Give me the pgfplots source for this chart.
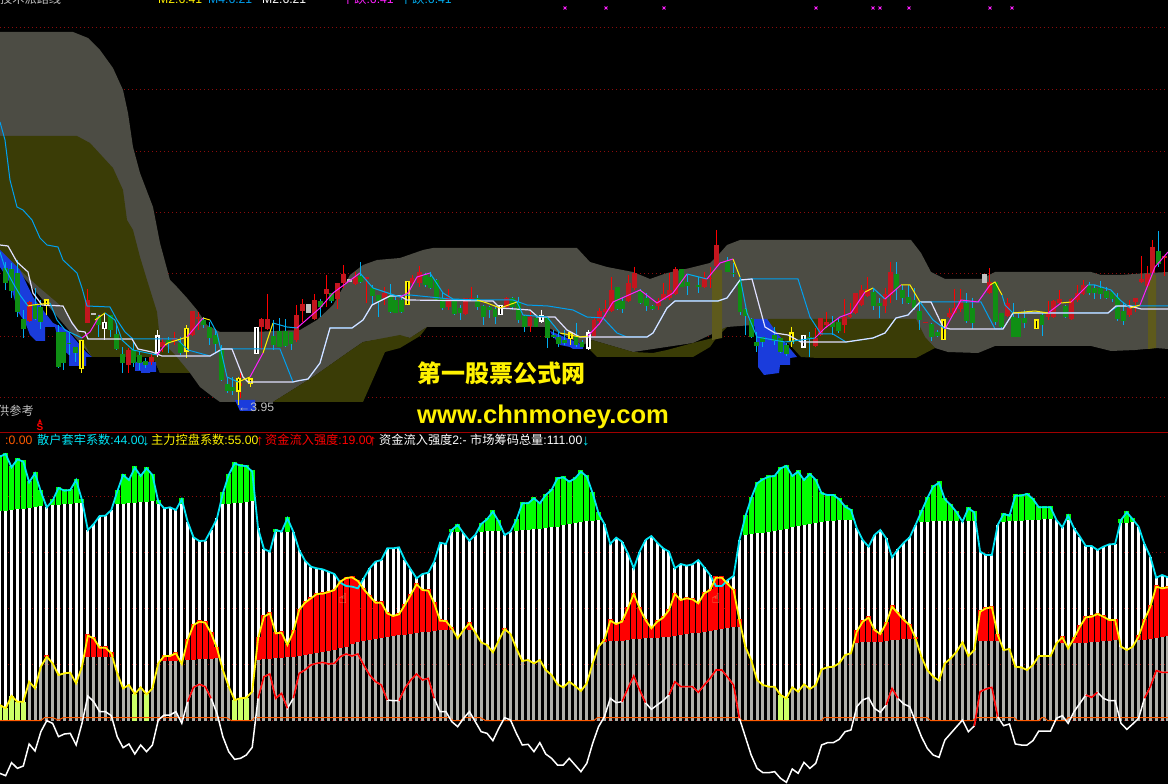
\documentclass[border=0pt]{standalone}
\usepackage{fontspec}
\setmainfont{Liberation Sans}
\newfontfamily\cjk{Noto Sans CJK SC}
\newfontfamily\djv{DejaVu Sans}
\usepackage{pgfplots}
\usepackage{pgfplotstable}
\pgfplotsset{compat=1.18}
\definecolor{cloud}{HTML}{4C4C44}
\definecolor{olive}{HTML}{3A3C06}
\definecolor{stripe}{HTML}{5E5A1C}
\definecolor{bluef}{HTML}{1A3CDC}
\definecolor{maline}{HTML}{00A0F0}
\definecolor{candr}{HTML}{C4161E}
\definecolor{candg}{HTML}{0F8F14}
\definecolor{dotr}{HTML}{8C0C0C}
\definecolor{barg}{HTML}{B0B0AA}
\definecolor{lgreen}{HTML}{CCFF66}
\definecolor{orgl}{HTML}{FF5A00}
\definecolor{cyanl}{HTML}{00E5F5}
\definecolor{mag}{HTML}{FF20FF}
\pgfplotstableread{
k c ye w gb rb
0 20 765 970 184 622
1 12 775 977 182 622
2 52 738 938 180 622
3 28 755 955 178 622
4 35 755 948 176 622
5 97 695 882 174 622
6 70 715 903 172 622
7 125 650 845 168 622
8 172 620 812 166 622
9 152 640 820 165 622
10 114 675 860 164 622
11 122 670 852 163 622
12 120 668 850 162 622
13 90 700 885 160 622
14 150 650 820 160 622
15 240 557 738 165 622
16 222 565 755 165 622
17 198 593 785 165 622
18 197 593 785 165 622
19 180 610 797 165 622
20 125 670 860 162 622
21 75 715 893 161 622
22 90 705 882 160 622
23 53 732 912 158 622
24 78 712 885 156 622
25 55 733 905 155 622
26 75 715 885 153 622
27 155 640 810 162 635
28 175 618 795 162 633
29 172 618 795 162 632
30 180 610 785 162 632
31 148 642 820 162 632
32 215 570 755 162 630
33 262 525 712 162 629
34 273 515 703 162 628
35 272 518 710 162 627
36 240 550 745 162 626
37 205 595 790 162 625
38 130 660 860 163 625
39 75 710 905 162 625
40 40 750 928 160 625
41 47 745 925 158 625
42 48 743 915 156 625
43 65 725 892 154 625
44 235 565 745 200 630
45 297 500 680 240 628
46 305 490 672 245 626
47 240 550 745 245 625
48 245 548 730 245 624
49 205 585 775 245 622
50 245 545 745 245 620
51 300 480 670 245 618
52 332 458 660 245 615
53 350 445 645 245 612
54 355 432 640 245 610
55 358 431 637 245 607
56 365 426 642 245 604
57 372 420 640 245 600
58 398 395 620 245 595
59 408 384 612 245 590
60 410 382 618 245 583
61 415 393 612 245 577
62 385 418 645 245 573
63 355 438 675 245 570
64 335 458 695 245 567
65 330 458 705 245 564
66 295 490 750 245 560
67 295 498 752 245 557
68 292 493 752 245 556
69 330 465 715 245 554
70 358 435 690 245 551
71 385 403 672 245 549
72 372 420 690 245 547
73 368 422 685 245 545
74 335 460 745 245 543
75 278 512 785 245 541
76 282 513 785 245 540
77 240 535 815 245 540
78 225 565 830 245 540
79 250 540 805 245 540
80 272 520 785 245 540
81 255 548 815 245 540
82 222 577 845 245 540
83 208 585 850 244 540
84 185 607 872 243 540
85 215 572 835 243 540
86 255 537 803 243 540
87 245 552 810 243 540
88 210 595 850 243 540
89 160 633 885 241 540
90 160 630 883 240 540
91 145 640 905 238 540
92 160 630 878 236 540
93 135 660 912 234 540
94 120 675 925 232 540
95 85 703 945 230 540
96 82 712 945 225 540
97 95 695 925 223 540
98 85 708 945 220 540
99 65 723 965 216 540
100 80 700 940 214 580
101 130 640 880 212 580
102 190 590 830 210 580
103 222 570 800 210 575
104 282 512 745 250 574
105 263 522 758 250 573
106 275 515 755 250 572
107 310 475 715 250 570
108 355 432 678 250 568
109 305 475 720 250 567
110 270 510 758 250 565
111 258 535 778 250 564
112 278 515 765 250 563
113 295 503 752 250 562
114 305 480 735 250 560
115 355 432 695 250 558
116 342 450 710 250 555
117 347 445 710 250 552
118 343 448 710 250 550
119 330 460 727 250 548
120 352 430 705 250 545
121 375 420 685 250 542
122 408 383 660 250 539
123 408 383 660 250 537
124 390 402 682 250 533
125 378 420 705 250 531
126 270 510 805 258 530
127 200 590 860 256 530
128 145 630 915 253 578
129 100 690 955 250 578
130 88 705 968 248 578
131 80 710 968 246 578
132 78 710 965 244 578
133 55 735 985 240 578
134 48 745 997 236 578
135 78 712 957 232 578
136 65 725 970 228 578
137 90 703 937 225 578
138 72 717 955 222 578
139 90 705 940 220 578
140 130 658 885 216 578
141 135 652 878 214 578
142 135 650 878 212 578
143 148 640 868 211 578
144 170 615 845 210 578
145 180 610 840 209 578
146 235 545 770 209 578
147 270 515 750 205 577
148 290 503 743 205 577
149 255 540 775 205 576
150 240 552 787 218 575
151 265 520 765 218 573
152 322 470 715 218 571
153 298 490 745 218 570
154 278 510 762 218 568
155 262 525 770 218 567
156 225 565 815 218 567
157 185 620 860 217 573
158 145 660 895 215 573
159 110 680 915 214 573
160 98 692 922 212 573
161 148 640 870 212 573
162 165 625 850 212 573
163 187 605 830 212 573
164 215 577 810 212 573
165 175 618 845 212 573
166 187 600 828 212 573
167 305 485 725 215 573
168 315 475 717 215 573
169 315 472 712 215 573
170 225 555 800 215 573
171 192 600 827 215 580
172 197 597 822 214 580
173 137 650 882 213 580
174 137 652 885 212 580
175 132 660 885 211 580
176 147 645 872 210 580
177 172 618 843 209 580
178 172 618 843 208 580
179 172 618 843 207 580
180 210 580 805 207 580
181 232 562 797 210 580
182 197 595 820 210 580
183 235 565 785 210 580
184 260 530 760 215 579
185 288 502 735 215 578
186 288 500 742 215 577
187 300 492 727 215 576
188 290 500 745 215 574
189 283 510 752 215 572
190 282 510 752 220 570
191 210 590 820 220 570
192 187 600 838 218 570
193 208 590 822 216 570
194 230 560 805 215 570
195 282 510 745 215 570
196 320 470 710 215 568
197 383 410 662 215 563
198 375 415 667 215 561
199 382 412 667 215 558
}\lowtab
\pgfplotstableread{
x t b h l
5.7 115 160 95 180
11.7 118 182 100 205
17.3 130 245 90 260
23.3 268 298 240 325
35 225 268 175 270
40.7 232 275 210 298
58.3 305 410 285 415
63.3 305 400 305 420
69 338 342 305 375
75.7 352 370 350 395
98.7 258 285 255 320
110.3 255 300 255 320
116.3 312 358 278 360
122.3 373 398 352 430
133.3 360 400 335 410
139.3 375 400 365 420
145.3 393 405 385 415
168.7 330 340 320 370
180.3 338 368 320 375
203.7 270 285 262 295
209.3 292 325 275 345
215.3 315 342 298 365
221.3 360 450 345 452
227.3 462 482 440 490
232.7 470 482 440 495
273.3 318 345 270 360
279.3 302 350 265 350
285.3 302 348 268 350
291 305 342 305 360
320.3 213 230 208 262
331.7 190 212 190 218
360.3 138 155 97 160
372.7 175 197 165 225
378.7 195 212 195 262
390.3 195 245 163 250
395.7 210 250 200 250
401.5 210 245 205 250
425.3 135 165 128 170
430.7 142 175 125 178
436.7 150 210 148 212
442.3 205 235 188 240
454.3 210 252 208 255
460 235 250 225 270
477.3 205 230 195 240
483.3 228 260 225 285
489.3 230 240 228 265
495 238 262 228 282
512.7 205 232 200 240
518.7 215 270 200 278
524.7 258 292 255 305
536 263 290 260 292
547.3 265 325 262 355
553.3 315 320 300 325
558.3 320 342 305 350
564.3 330 340 300 345
576 320 345 278 350
582 335 352 330 352
617.3 172 238 170 240
622.3 212 238 205 250
640.7 180 220 178 222
646.7 205 228 190 242
652.7 228 237 225 240
681.7 118 170 118 172
687.3 155 168 135 195
698.7 165 172 140 190
727.7 92 125 82 125
733.3 128 132 100 140
740 150 245 145 255
745.7 238 258 235 315
751.7 268 322 265 325
756.7 335 348 305 365
762.7 322 335 320 350
774.3 315 332 292 345
780.7 325 365 325 370
786.7 345 372 340 378
}\greenA
\pgfplotstableread{
x t b h l
29.3 215 272 213 275
87.3 210 278 178 280
128.3 360 405 355 430
151.7 380 395 370 405
162.7 335 350 325 365
174.3 325 332 305 345
192.3 243 315 243 318
198 262 268 245 300
240 460 468 430 505
261.7 268 292 265 360
267.3 268 298 192 300
296.7 255 330 225 335
302.3 222 242 208 275
314.3 210 268 192 270
326.3 178 192 135 230
337.7 160 208 160 238
343.7 132 160 105 175
355.3 140 162 125 165
366.7 140 146 140 218
384.3 190 205 172 225
412 143 160 135 165
419.3 125 160 108 170
448.3 200 232 178 240
465.7 205 252 205 255
471.7 205 208 170 212
506.7 205 230 200 235
530 262 288 245 305
594 270 318 265 322
599.3 243 272 235 285
605.3 238 245 210 262
611.3 180 242 142 245
628.7 160 212 135 215
634.7 130 175 110 180
658.3 212 228 205 240
663.3 192 210 158 210
669.3 180 205 130 210
675.3 118 192 112 195
704.7 145 172 125 175
710 143 146 112 175
716.7 45 108 0 112
}\redA
\pgfplotstableread{
x t b h l
793 360 365 350 372
809.3 352 355 335 412
832.3 305 320 288 345
838.3 305 332 295 340
873.3 215 257 205 270
879.3 248 258 235 295
896.3 162 208 127 240
902.3 210 233 195 253
908.3 232 250 195 253
914 240 265 205 270
919.7 272 300 245 330
931.3 312 352 310 362
937.3 335 348 330 350
966.7 248 303 220 308
972.3 263 310 233 328
995.3 187 305 187 315
1001.3 280 322 278 325
1013.7 292 350 250 352
1018.7 295 350 280 352
1024.7 293 310 270 325
1042 285 315 280 348
1065.3 258 290 255 293
1089 195 220 185 225
1094.7 205 220 195 238
1100.7 205 222 183 238
1106.3 213 235 200 238
1112 215 238 215 245
1117.3 230 298 218 302
1123.3 273 303 245 315
1158.3 93 132 33 140
1164.3 108 113 108 113
}\greenB
\pgfplotstableread{
x t b h l
815.3 355 378 325 380
820.7 295 345 295 348
826.7 305 315 275 325
844.3 290 315 237 340
850 285 290 250 295
855.3 220 280 220 282
861.3 210 255 195 258
867.3 207 227 172 230
885 222 257 205 280
890.7 155 225 125 250
925.3 305 310 305 310
949.3 280 292 265 295
954.7 263 280 208 282
960.7 240 268 208 275
989.7 187 220 145 222
1007.3 250 287 235 290
1048 278 290 243 300
1053.7 243 290 240 295
1059.3 238 250 210 252
1071.3 237 297 235 300
1077.3 220 240 195 245
1083 195 222 180 225
1129.3 255 285 240 290
1135.3 233 247 233 275
1141.3 178 185 108 188
1147.3 162 197 137 200
1152.3 80 160 60 165
1164.3 108 113 108 168
}\redB
\pgfplotstableread{
x t b h l
46.7 208 228 208 255
81.7 330 418 330 430
186.3 293 365 285 385
238.7 443 485 440 525
250.3 445 463 445 470
407.3 153 225 153 225
570.3 307 327 305 345
791.7 307 337 290 350
}\yellowA
\pgfplotstableread{
x t b h l
943.3 298 360 298 360
1036.3 298 327 298 327
}\yellowB
\pgfplotstableread{
x t b h l
104.7 275 298 250 330
157.3 316 370 300 380
256.3 290 373 290 373
500.7 225 255 225 255
541.7 255 275 240 280
588.3 307 356 300 360
803.3 315 353 315 353
}\whiteA
\pgfplotstableread{
x t b
93.3 250 254
308.3 222 250
349.3 148 155
984.3 132 158
}\greyA
\pgfplotsset{ebar/.style={draw=none,no markers,forget plot}}
\newcommand\candle[4]{%
\addplot[ebar,error bars/.cd,y dir=plus,y explicit,error mark=none,error bar style={draw=#4,line width=1pt}] table[x=x,y expr=#2+\thisrow{h}/3,y error plus expr=(\thisrow{l}-\thisrow{h})/3]{#1};
\addplot[ebar,error bars/.cd,y dir=plus,y explicit,error mark=none,error bar style={draw=#3,line width=4.8pt}] table[x=x,y expr=#2+\thisrow{t}/3,y error plus expr=(\thisrow{b}-\thisrow{t})/3]{#1};}
\newcommand\hollowc[3]{%
\addplot[ebar,error bars/.cd,y dir=plus,y explicit,error mark=none,error bar style={draw=#3,line width=1pt}] table[x=x,y expr=#2+\thisrow{h}/3,y error plus expr=(\thisrow{l}-\thisrow{h})/3]{#1};
\addplot[ebar,error bars/.cd,y dir=plus,y explicit,error mark=none,error bar style={draw=#3,line width=5pt}] table[x=x,y expr=#2+\thisrow{t}/3,y error plus expr=(\thisrow{b}-\thisrow{t})/3]{#1};
\addplot[ebar,error bars/.cd,y dir=plus,y explicit,error mark=none,error bar style={draw=black,line width=1.4pt}] table[x=x,y expr=#2+(\thisrow{t}+4)/3,y error plus expr=(\thisrow{b}-\thisrow{t}-8)/3]{#1};}
\newcommand\combbars[4]{% base expr, error expr, colour, width
\addplot[ebar,error bars/.cd,y dir=minus,y explicit,error mark=none,error bar style={draw=#3,line width=#4}] table[x=k,y expr={#1},y error minus expr={#2}]{\lowtab};}
\begin{document}
\begin{tikzpicture}
\path[use as bounding box] (0,0) rectangle (1168pt,784pt);
\clip (0,0) rectangle (1168pt,784pt);
\fill[black] (0,0) rectangle (1168pt,784pt);
% ---------- upper panel ----------
\begin{axis}[at={(0,352pt)},anchor=south west,width=1168pt,height=432pt,scale only axis,hide axis,
 xmin=0,xmax=1168,ymin=0,ymax=432,y dir=reverse,clip=true]
\pgfplotsinvokeforeach{28,90,152,213,274,337,398}{
 \addplot[dotr,line width=1pt,dash pattern=on 1pt off 3pt,forget plot] coordinates {(0,#1) (1168,#1)};}
\addplot[fill=cloud,draw=none,forget plot] coordinates {(0,32) (73,32) (88,38) (100,50) (113,68) (123,90) (128,113) (133,147) (140,173) (153,207) (160,243) (170,280) (177,287) (187,298) (197,310) (207,325) (220,332) (253,332) (300,330) (317,320) (333,305) (350,275) (363,265) (377,260) (400,258) (423,250) (433,248) (577,248) (590,262) (607,267) (633,272) (650,279) (667,273) (690,268) (710,263) (720,253) (727,245) (740,240) (911,240) (921,253) (931,272) (945,279) (981,279) (995,272) (1091,272) (1101,275) (1121,275) (1148,273) (1168,272) (1168,349) (1156,348) (1135,350) (1111,351) (1091,346) (995,346) (978,353) (948,352) (935,348) (916,330) (800,330) (753,325) (727,327) (693,343) (633,352) (592,340) (583,345) (547,327) (433,327) (427,327) (410,338) (400,336) (363,342) (347,353) (313,377) (273,402) (220,402) (213,397) (200,387) (190,373) (160,373) (153,357) (92,357) (0,250)} -- cycle;
\addplot[fill=olive,draw=none,forget plot] coordinates {(0,136) (77,136) (90,143) (113,168) (123,190) (127,220) (133,230) (140,257) (147,280) (157,312) (160,340) (175,355) (190,373) (160,373) (153,357) (92,357) (85,345) (75,325) (60,305) (40,288) (20,270) (0,250)} -- cycle;
\addplot[fill=olive,draw=none,forget plot] coordinates {(273,402) (313,377) (347,353) (363,342) (400,335) (410,338) (427,327) (420,336) (400,348) (385,352) (363,402)} -- cycle;
\addplot[fill=olive,draw=none,forget plot] coordinates {(592,340) (633,352) (653,353) (667,350) (693,343) (713,338) (720,330) (727,327) (717,337) (710,347) (693,357) (597,357) (587,347)} -- cycle;
\addplot[fill=olive,draw=none,forget plot] coordinates {(768,319) (916,319) (925,337) (935,348) (916,358) (818,358) (801,357) (790,345) (770,330)} -- cycle;
\addplot[fill=stripe,draw=none,forget plot] coordinates {(712,270) (722,270) (722,338) (712,340)} -- cycle;
\addplot[fill=stripe,draw=none,forget plot] coordinates {(1148,275) (1156,275) (1156,348) (1148,349)} -- cycle;
\addplot[fill=bluef,draw=none,forget plot] coordinates {(0,250) (20,270) (33,297) (53,323) (67,330) (87,353) (92,357) (86,357) (86,366) (69,366) (69,355) (60,347) (55,327) (45,327) (45,341) (36,341) (30,335) (25,322) (18,312) (10,283) (0,267)} -- cycle;
\addplot[fill=bluef,draw=none,forget plot] coordinates {(135,362) (156,362) (156,372) (150,372) (150,373) (141,373) (141,371) (135,371)} -- cycle;
\addplot[fill=bluef,draw=none,forget plot] coordinates {(235,400) (255,400) (255,411) (240,411)} -- cycle;
\addplot[fill=bluef,draw=none,forget plot] coordinates {(550,331) (560,335) (583,345) (583,349) (573,349) (570,347) (560,345) (552,335)} -- cycle;
\addplot[fill=bluef,draw=none,forget plot] coordinates {(753,319) (767,319) (777,333) (797,357) (790,358) (790,365) (780,365) (779,373) (764,375) (758,367) (758,347)} -- cycle;
\candle{\greenA}{230}{candg}{cyan}
\candle{\redA}{230}{candr}{red}
\candle{\greenB}{220}{candg}{cyan}
\candle{\redB}{220}{candr}{red}
\addplot[ebar,error bars/.cd,y dir=plus,y explicit,error mark=none,error bar style={draw=lightgray,line width=5pt}] table[x=x,y expr=230+\thisrow{t}/3,y error plus expr=(\thisrow{b}-\thisrow{t})/3]{\greyA};
\hollowc{\yellowA}{230}{yellow}
\hollowc{\yellowB}{220}{yellow}
\hollowc{\whiteA}{230}{white}
\addplot[maline,line width=1pt,forget plot] coordinates {(0,122) (5,140) (10,180) (17,207) (23,210) (32,220) (40,238) (47,245) (58,247) (63,260) (77,273) (82,288) (87,306) (110,307) (117,320) (125,332) (133,339) (177,339) (188,350) (210,356) (223,349) (280,349) (293,382) (297,381) (308,379) (320,363) (330,328) (352,328) (363,320) (372,305) (390,296) (410,295) (460,300) (513,300) (527,305) (548,306) (573,310) (587,317) (603,318) (617,333) (627,337) (647,337) (653,333) (667,308) (675,301) (718,301) (727,298) (740,280) (752,279) (798,279) (810,317) (821,334) (833,334) (846,342) (873,338) (885,333) (896,318) (908,315) (920,302) (981,302) (995,329) (1003,329) (1013,313) (1108,313) (1118,306) (1168,306)};
\addplot[color={rgb,255:red,224;green,224;blue,255},line width=1.2pt,forget plot] coordinates {(0,245) (8,246) (17,262) (28,272) (33,293) (42,305) (63,306) (72,323) (78,331) (85,332) (88,339) (132,339) (138,349) (152,352) (162,356) (210,356) (222,349) (232,349) (243,377) (248,382) (293,382) (297,381) (308,379) (320,363) (330,328) (352,328) (363,320) (372,305) (390,296) (400,296) (407,300) (493,301) (500,308) (530,310) (538,317) (555,317) (567,330) (580,337) (647,337) (653,333) (667,308) (675,301) (718,301) (727,298) (740,280) (752,279) (765,327) (775,333) (788,335) (801,342) (846,342) (873,338) (885,333) (896,318) (908,315) (920,302) (931,302) (943,327) (950,329) (1003,329) (1013,313) (1108,313) (1116,306) (1130,306) (1141,309) (1168,309)};
\addplot[cyan,line width=1pt,forget plot] coordinates {(0,252) (5,268) (13,283) (20,295) (28,306)};
\addplot[yellow,line width=1pt,forget plot] coordinates {(28,306) (33,305) (50,303)};
\addplot[cyan,line width=1pt,forget plot] coordinates {(50,303) (57,320) (65,330) (82,338)};
\addplot[mag,line width=1pt,forget plot] coordinates {(82,338) (90,332) (100,315)};
\addplot[yellow,line width=1pt,forget plot] coordinates {(95,320) (105,313)};
\addplot[cyan,line width=1pt,forget plot] coordinates {(105,313) (115,320) (122,340) (133,350) (157,355)};
\addplot[mag,line width=1pt,forget plot] coordinates {(157,355) (165,345)};
\addplot[yellow,line width=1pt,forget plot] coordinates {(165,345) (168,343) (187,337)};
\addplot[mag,line width=1pt,forget plot] coordinates {(187,337) (203,318)};
\addplot[yellow,line width=1pt,forget plot] coordinates {(203,318) (210,320)};
\addplot[cyan,line width=1pt,forget plot] coordinates {(210,320) (217,333) (227,377) (238,382)};
\addplot[yellow,line width=1pt,forget plot] coordinates {(238,382) (250,377)};
\addplot[mag,line width=1pt,forget plot] coordinates {(250,377) (263,353)};
\addplot[yellow,line width=1pt,forget plot] coordinates {(263,353) (273,323)};
\addplot[cyan,line width=1pt,forget plot] coordinates {(273,323) (287,327) (297,328)};
\addplot[mag,line width=1pt,forget plot] coordinates {(297,328) (320,308) (333,293) (360,273)};
\addplot[cyan,line width=1pt,forget plot] coordinates {(360,273) (373,288) (400,297)};
\addplot[mag,line width=1pt,forget plot] coordinates {(400,297) (408,293) (417,277) (430,273)};
\addplot[cyan,line width=1pt,forget plot] coordinates {(430,273) (443,293) (453,299) (477,300)};
\addplot[yellow,line width=1pt,forget plot] coordinates {(477,300) (487,303) (500,308) (517,302)};
\addplot[cyan,line width=1pt,forget plot] coordinates {(517,302) (523,315) (547,317) (560,333)};
\addplot[yellow,line width=1pt,forget plot] coordinates {(560,333) (580,337) (588,336)};
\addplot[mag,line width=1pt,forget plot] coordinates {(588,336) (600,323) (613,302) (640,290) (657,303) (673,293) (687,274)};
\addplot[cyan,line width=1pt,forget plot] coordinates {(687,274) (707,279)};
\addplot[mag,line width=1pt,forget plot] coordinates {(707,279) (720,263) (733,259)};
\addplot[yellow,line width=1pt,forget plot] coordinates {(733,259) (740,277)};
\addplot[cyan,line width=1pt,forget plot] coordinates {(740,277) (747,313) (757,337) (785,342) (801,340) (815,338)};
\addplot[mag,line width=1pt,forget plot] coordinates {(815,338) (825,328) (840,317) (851,313) (865,292)};
\addplot[yellow,line width=1pt,forget plot] coordinates {(865,292) (873,288)};
\addplot[cyan,line width=1pt,forget plot] coordinates {(873,288) (885,299)};
\addplot[mag,line width=1pt,forget plot] coordinates {(885,299) (901,285)};
\addplot[yellow,line width=1pt,forget plot] coordinates {(901,285) (910,285) (920,302)};
\addplot[cyan,line width=1pt,forget plot] coordinates {(920,302) (933,320) (945,329)};
\addplot[mag,line width=1pt,forget plot] coordinates {(945,329) (961,300) (978,302) (990,285)};
\addplot[yellow,line width=1pt,forget plot] coordinates {(990,285) (995,282) (1002,295)};
\addplot[cyan,line width=1pt,forget plot] coordinates {(1002,295) (1005,305) (1013,313)};
\addplot[yellow,line width=1pt,forget plot] coordinates {(1013,313) (1035,311) (1048,313)};
\addplot[mag,line width=1pt,forget plot] coordinates {(1048,313) (1061,303)};
\addplot[yellow,line width=1pt,forget plot] coordinates {(1061,303) (1071,302)};
\addplot[mag,line width=1pt,forget plot] coordinates {(1071,302) (1088,285)};
\addplot[cyan,line width=1pt,forget plot] coordinates {(1088,285) (1095,285) (1111,290) (1120,300) (1130,308)};
\addplot[yellow,line width=1pt,forget plot] coordinates {(1130,308) (1140,305)};
\addplot[mag,line width=1pt,forget plot] coordinates {(1140,305) (1155,267) (1168,252)};
\addplot[only marks,mark=x,mark size=2pt,color=mag,line width=1pt,forget plot] coordinates {(565,8) (606,8) (664,8) (816,8) (873,8) (880,8) (909,8) (990,8) (1012,8)};
\end{axis}
% ---------- lower panel ----------
\begin{axis}[at={(0,0)},anchor=south west,width=1168pt,height=334pt,scale only axis,hide axis,
 xmin=0.034,xmax=199.01,ymin=0,ymax=1002,y dir=reverse,clip=true]
\pgfplotsinvokeforeach{140,308,475,643,812}{
 \addplot[dotr,line width=1pt,dash pattern=on 1pt off 3pt,forget plot] coordinates {(0,#1) (199.01,#1)};}
\combbars{812}{812-max(\thisrow{c},\thisrow{gb})}{white}{3pt}
\combbars{\thisrow{gb}}{max(0,\thisrow{gb}-\thisrow{c}+4)*(\thisrow{gb}>\thisrow{c})}{green}{5pt}
\combbars{812}{812-max(\thisrow{ye},\thisrow{rb})}{barg}{3pt}
\combbars{\thisrow{rb}}{max(0,\thisrow{rb}-\thisrow{ye}+4)*(\thisrow{rb}>\thisrow{ye})}{red}{5pt}
\combbars{812}{(812-\thisrow{ye})*(\thisrow{ye}>=730)}{lgreen}{5pt}
\addplot[orgl,line width=1pt,forget plot] coordinates {(0,812) (7,812) (7.6,803) (9,803) (10,810) (10.8,803) (38.6,803) (39.5,812) (42.9,812) (43.4,803) (76.5,803) (77.3,812) (78.5,812) (79,803) (81.9,803) (82.8,812) (101.2,812) (101.8,803) (126,803) (126.4,812) (140,812) (140.4,803) (158,803) (158.6,812) (165.7,812) (166.3,803) (172.8,803) (173.4,812) (177,812) (177.5,803) (178,803) (178.5,812) (181.5,812) (182,803) (199.01,803)};
\addplot[white,line width=1.5pt,forget plot] table[x=k,y=w]{\lowtab};
\pgfplotsinvokeforeach{32:36,44:49,50:66,68:74,106:110,114:126,151:153,166:170,185:187,195:199}{
 \addplot[red,line width=1.6pt,forget plot,restrict x to domain=#1] table[x=k,y=w]{\lowtab};}
\addplot[cyanl,line width=1.8pt,forget plot] table[x=k,y=c]{\lowtab};
\addplot[yellow,line width=1.8pt,forget plot] table[x=k,y=ye]{\lowtab};
\end{axis}
% ---------- text ----------
\draw[color={rgb,255:red,160;green,0;blue,0},line width=1pt] (0,351.5pt) -- (1168pt,351.5pt);
\tikzset{lab/.style={anchor=base west,inner sep=0pt,font=\fontsize{12.2}{12.2}\selectfont}}
\tikzset{arw/.style={anchor=base west,inner sep=0pt,font=\fontsize{15}{15}\selectfont}}
\node[lab,text=orgl] at (5pt,339.5pt) {:0.00};
\node[lab,text=cyanl] at (37pt,339.5pt) {{\cjk 散户套牢系数}:44.00};
\node[arw,text=cyanl] at (142pt,338.5pt) {↓};
\node[lab,text=yellow] at (151pt,339.5pt) {{\cjk 主力控盘系数}:55.00};
\node[arw,text=red] at (256pt,338.5pt) {↑};
\node[lab,text=red] at (265pt,339.5pt) {{\cjk 资金流入强度}:19.00};
\node[arw,text=red] at (369pt,338.5pt) {↑};
\node[lab,text=white] at (379pt,339.5pt) {{\cjk 资金流入强度}2:-};
\node[lab,text=white] at (470pt,339.5pt) {{\cjk 市场筹码总量}:111.00};
\node[arw,text=cyanl] at (582pt,338.5pt) {↓};
\node[lab,text=lightgray] at (-3pt,368pt) {{\cjk 供参考}};
\node[lab,text=lightgray] at (238pt,372pt) {←3.95};
\node[inner sep=0pt,text=red,font=\fontsize{10}{10}\selectfont\bfseries] at (40pt,357pt) {S};
\node[inner sep=0pt,text=red,font=\djv\fontsize{5}{5}\selectfont] at (40pt,363pt) {▲};
\node[lab,text=yellow,font=\cjk\bfseries\fontsize{24}{24}\selectfont] at (417pt,401pt) {第一股票公式网};
\node[lab,text=yellow,font=\bfseries\fontsize{25.6}{26}\selectfont] at (417pt,360pt) {www.chnmoney.com};
\node[text={rgb,255:red,240;green,190;blue,120},font=\djv\fontsize{14}{14}\selectfont,inner sep=0pt] at (343pt,186pt) {☝};
\node[text={rgb,255:red,240;green,190;blue,120},font=\djv\fontsize{14}{14}\selectfont,inner sep=0pt] at (716pt,186pt) {☝};
\node[lab,text=lightgray] at (0pt,780pt) {{\cjk 技术派路线}};
\node[lab,text=yellow] at (158pt,780pt) {M2:6.41};
\node[lab,text=maline] at (208pt,780pt) {M4:6.21};
\node[lab,text=white] at (262pt,780pt) {M2:6.21};
\node[lab,text=mag] at (342pt,780pt) {{\cjk 下跌}:6.41};
\node[lab,text=cyan] at (400pt,780pt) {{\cjk 下跌}:6.41};
\end{tikzpicture}
\end{document}
